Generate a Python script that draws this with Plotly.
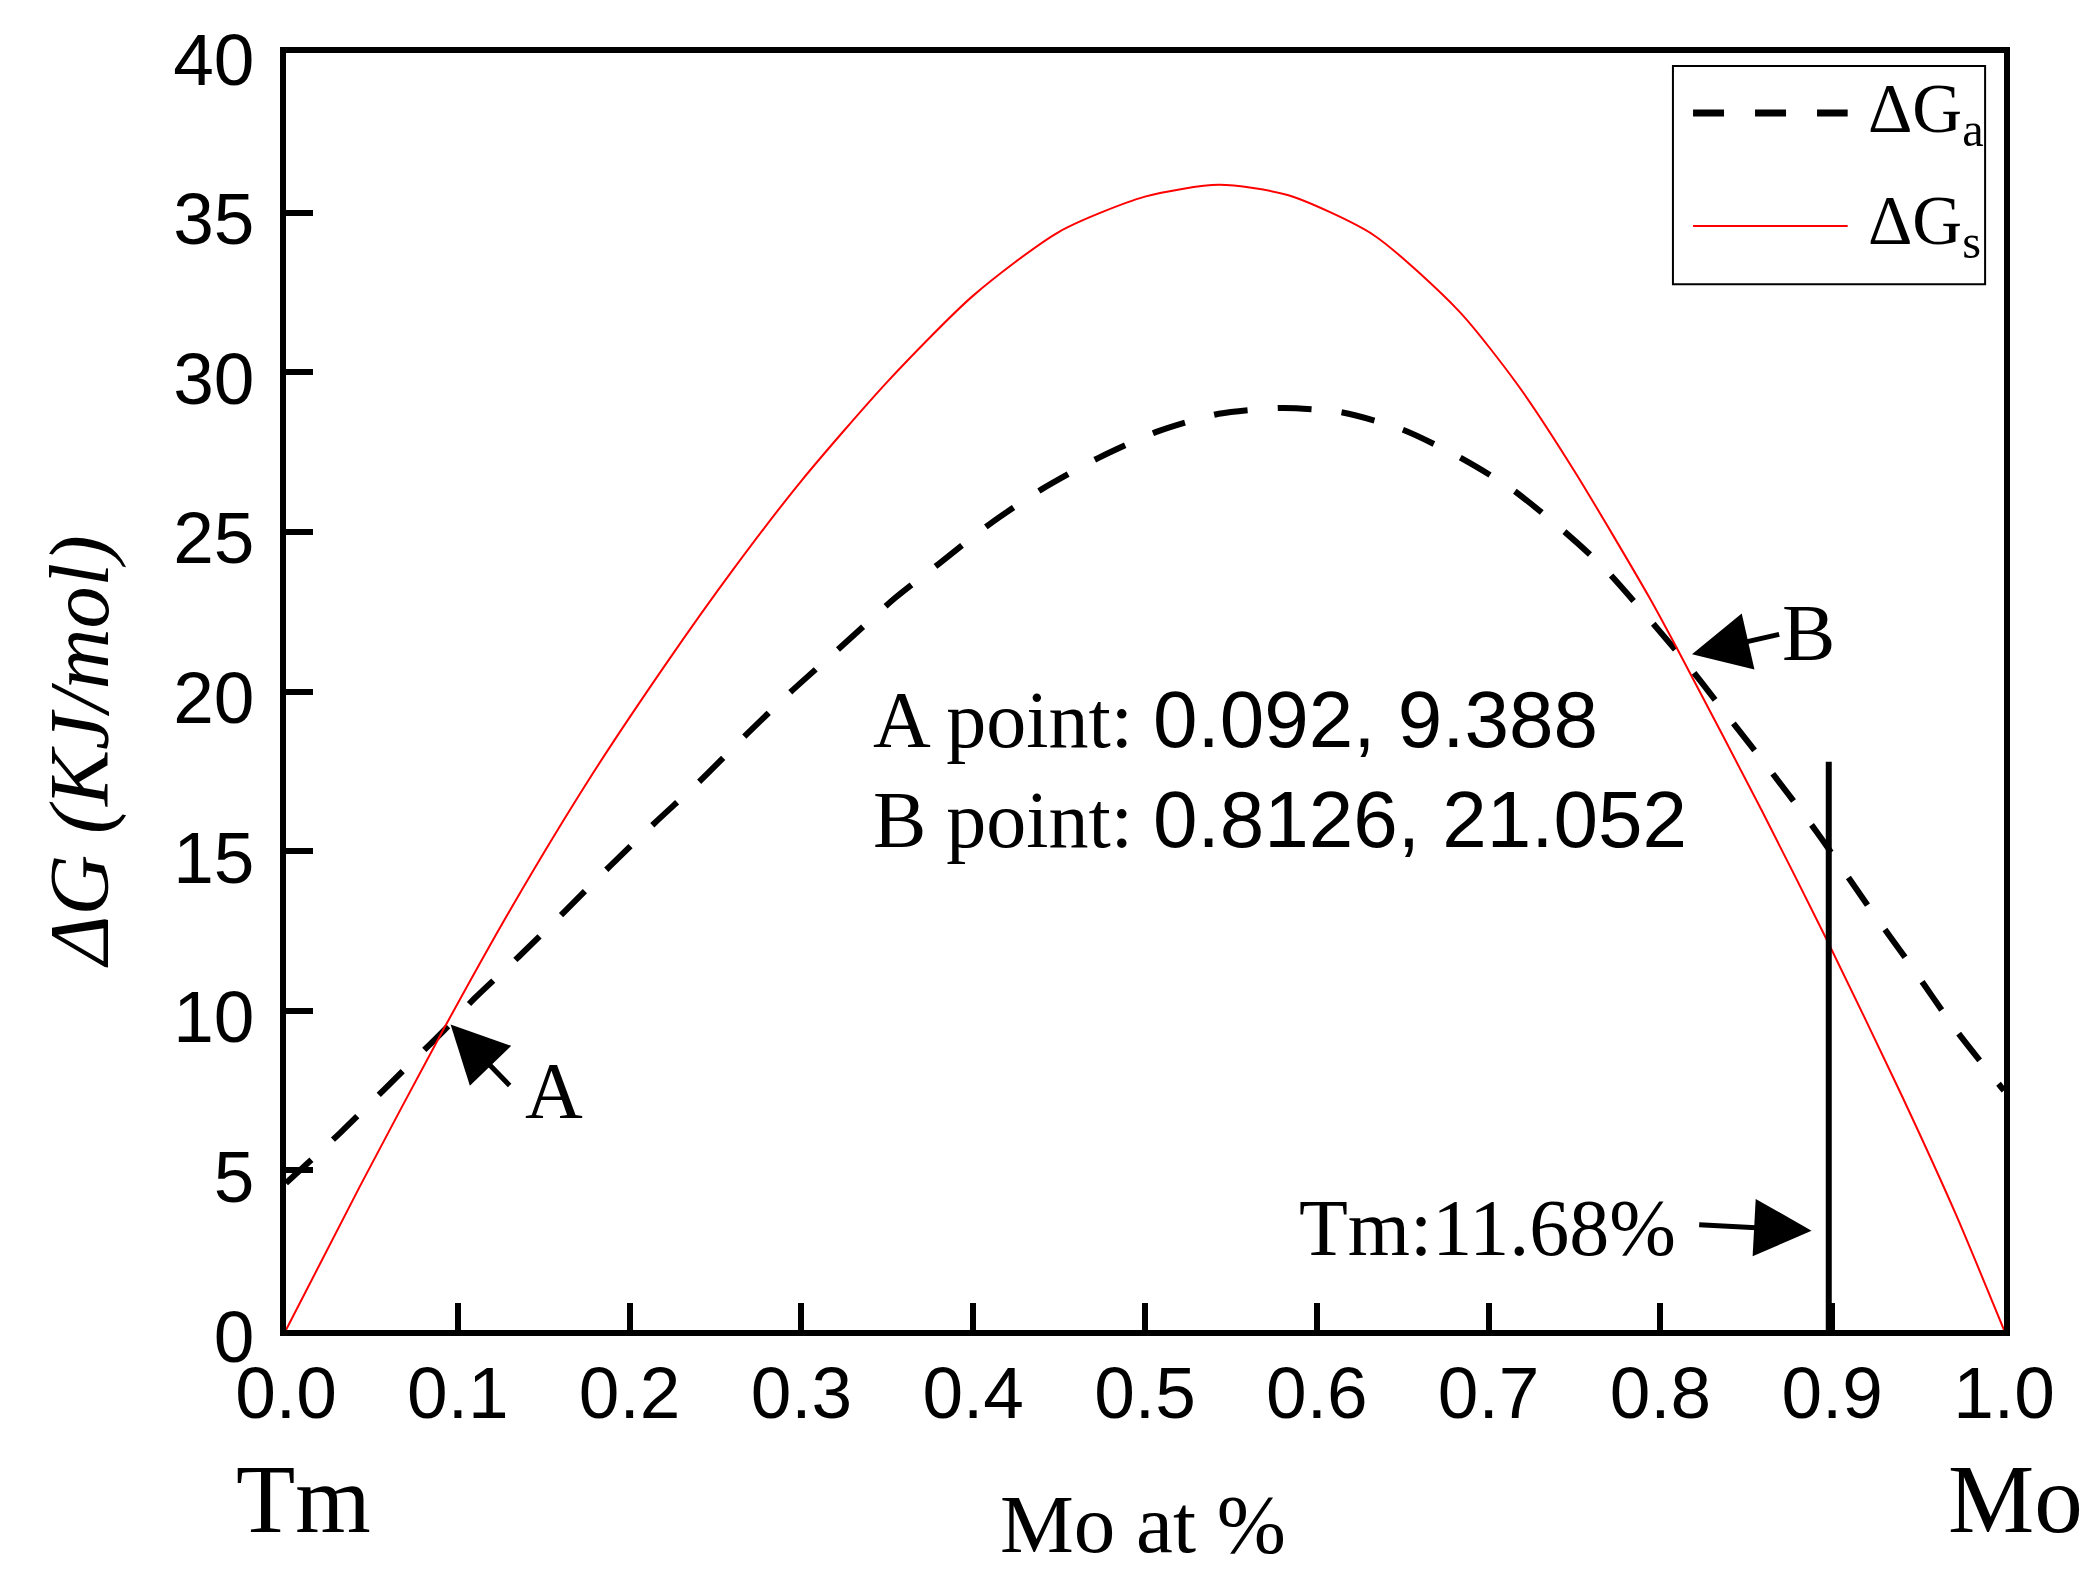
import plotly.graph_objects as go

# ΔG_s (solid red)
xs = [0, 0.043, 0.092, 0.132, 0.177, 0.221, 0.26, 0.30, 0.35, 0.40, 0.45, 0.50,
      0.543, 0.583, 0.633, 0.683, 0.717, 0.75, 0.7935, 0.8126, 0.859, 0.898,
      0.94, 0.972, 1.0]
gs = [0, 4.5, 9.45, 13.3, 17.3, 20.85, 23.8, 26.6, 29.7, 32.4, 34.4, 35.5,
      35.87, 35.55, 34.3, 31.9, 29.6, 26.9, 22.95, 21.052, 16.27, 12.1,
      7.4, 3.62, 0]

# ΔG_a (dashed black)
xa = [0, 0.032, 0.058, 0.092, 0.11, 0.1356, 0.162, 0.188, 0.214, 0.241, 0.267,
      0.293, 0.321, 0.355, 0.38, 0.41, 0.44, 0.473, 0.507, 0.543, 0.58, 0.615,
      0.65, 0.682, 0.712, 0.74, 0.767, 0.8126, 0.836, 0.862, 0.891, 0.92,
      0.946, 0.972, 1.0]
ga = [4.6, 6.2, 7.58, 9.388, 10.4, 11.7, 13.1, 14.5, 15.85, 17.2, 18.6,
      19.95, 21.3, 22.95, 24.0, 25.26, 26.34, 27.32, 28.14, 28.7, 28.88, 28.74,
      28.2, 27.37, 26.4, 25.2, 23.88, 21.052, 19.45, 17.66, 15.6, 13.35,
      11.4, 9.4, 7.5]

# Tm marker line
tm_x = [0.898, 0.898]
tm_y = [0, 17.8]

point_a = (0.092, 9.388)
point_b = (0.8126, 21.052)

SERIF = "Liberation Serif"
SANS = "Liberation Sans"

fig = go.Figure()
fig.add_trace(go.Scatter(x=xa, y=ga, mode="lines", name="ΔG_a",
                         line=dict(color="black", width=6, dash="34px,30px",
                                   shape="spline", smoothing=0.7),
                         showlegend=False))
fig.add_trace(go.Scatter(x=xs, y=gs, mode="lines", name="ΔG_s",
                         line=dict(color="red", width=2, shape="spline", smoothing=0.7),
                         showlegend=False))
fig.add_trace(go.Scatter(x=tm_x, y=tm_y, mode="lines", name="Tm",
                         line=dict(color="black", width=6), showlegend=False))

ann = []
# arrows (tail -> tip, data coords)
for tip, tail in [((0.0958, 9.57), (0.131, 7.61)),
                  ((0.8184, 21.17), (0.870, 21.8)),
                  ((0.888, 3.11), (0.8217, 3.30))]:
    ann.append(dict(x=tip[0], y=tip[1], ax=tail[0], ay=tail[1], xref="x", yref="y",
                    axref="x", ayref="y", text="", showarrow=True, arrowhead=2,
                    arrowsize=2.3, arrowwidth=5, arrowcolor="black"))


def label(x, y, text, size, family=SERIF, ref="x", xanchor="center", **kw):
    return dict(x=x, y=y, xref=ref if ref == "paper" else "x",
                yref=ref if ref == "paper" else "y", text=text, showarrow=False,
                xanchor=xanchor, yanchor="middle",
                font=dict(family=family, size=size, color="black", **kw.pop("fkw", {})),
                **kw)


ann += [
    label(0.156, 7.49, "A", 80),
    label(0.886, 21.84, "B", 80),
    label(0.8104, 3.18, "Tm:11.68%", 80, xanchor="right"),
    label(0.3406, 19.11, f'A point: <span style="font-family:{SANS}">'
          f'{point_a[0]}, {point_a[1]}</span>', 80, xanchor="left"),
    label(0.3406, 16.0, f'B point: <span style="font-family:{SANS}">'
          f'{point_b[0]}, {point_b[1]}</span>', 80, xanchor="left"),
    # axis titles / end labels
    label(-0.12, 0.4534, "ΔG (KJ/mol)", 84, ref="paper", textangle=-90,
          fkw=dict(style="italic")),
    label(0.4987, -0.152, "Mo at %", 83, ref="paper"),
    label(0.0102, -0.133, "Tm", 97, ref="paper"),
    label(1.0068, -0.133, "Mo", 97, ref="paper"),
    # legend labels
    label(0.9197, 0.953, "ΔG<sub>a</sub>", 69, ref="paper", xanchor="left"),
    label(0.9197, 0.865, "ΔG<sub>s</sub>", 69, ref="paper", xanchor="left"),
]

shapes = [
    dict(type="rect", xref="paper", yref="paper", x0=0.8073, x1=0.989, y0=0.819, y1=0.9898,
         line=dict(color="black", width=2), fillcolor="white", layer="below"),
    dict(type="line", xref="paper", yref="paper", x0=0.819, x1=0.909, y0=0.953, y1=0.953,
         line=dict(color="black", width=7, dash="31px,31px")),
    dict(type="line", xref="paper", yref="paper", x0=0.819, x1=0.909, y0=0.8645, y1=0.8645,
         line=dict(color="red", width=2)),
]

axis_common = dict(showline=True, linewidth=6, linecolor="black", mirror=True,
                   ticks="inside", ticklen=27, tickwidth=6, tickcolor="black",
                   showgrid=False, zeroline=False,
                   tickfont=dict(family=SANS, size=73, color="black"))

# page body adds ~8px offset, so margins are shifted to compensate
fig.update_layout(
    width=2095, height=1582,
    margin=dict(l=278, r=99, t=45, b=260),
    plot_bgcolor="white", paper_bgcolor="white",
    xaxis=dict(range=[0, 1], dtick=0.1, tickformat=".1f", ticklabelstandoff=-6,
               **axis_common),
    yaxis=dict(range=[0, 40], dtick=5, ticklabelstandoff=11, ticklabelshift=6,
               **axis_common),
    annotations=ann, shapes=shapes,
)

fig.write_html("out.html")
